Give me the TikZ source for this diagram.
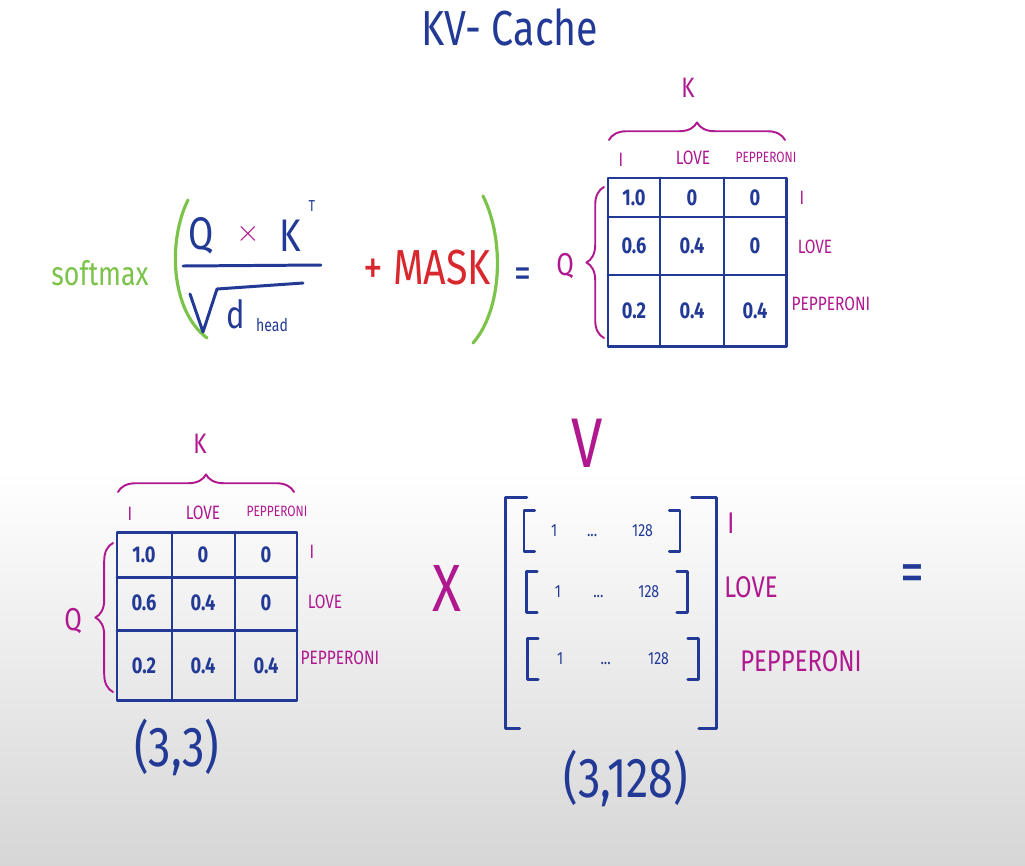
\documentclass[tikz,border=0pt]{standalone}
\usepackage{fontspec}
\setmainfont{Fira Sans}[FakeStretch=0.8]
\usetikzlibrary{positioning,decorations.pathreplacing}

\definecolor{ink}{HTML}{223A96}
\definecolor{pen}{HTML}{B01890}
\definecolor{leaf}{HTML}{7CC34A}
\definecolor{alert}{HTML}{D8272D}
\newcommand{\fsz}[1]{\fontsize{#1}{#1}\selectfont}

\begin{document}
\begin{tikzpicture}[x=0.02cm,y=-0.02cm,line cap=round,line join=round,
   every node/.style={inner sep=1pt},
   headline/.style={text=ink,font=\fsz{28}},
   num/.style={text=ink,font=\fsz{13}\bfseries},
   word/.style={text=pen,font=\fsz{11}},
   small word/.style={text=pen,font=\fsz{8.5}},
   big word/.style={text=pen,font=\fsz{17}},
   vrow/.style={text=ink,font=\fsz{10},minimum height=0.8cm},
   gridline/.style={draw=ink,line width=1.7pt},
   barline/.style={draw=ink,line width=1.7pt},
   curly/.style={draw=pen,line width=1.1pt,decorate,decoration={brace,amplitude=10pt}},
   paren/.style={draw=leaf,line width=1.8pt}]
  \useasboundingbox (0,0) rectangle (1025,866);
  \fill[white] (0,0) rectangle (1025,866);
  \shade[top color=white,bottom color=black!16] (0,470) rectangle (1025,866);

  \node[headline] (title) at (510,27) {KV- Cache};

  % softmax( Q x K^T / sqrt(d_head) + MASK ) =
  \node[text=leaf,font=\fsz{19}] (softmax) at (100,273) {softmax};
  \draw[paren] (188,200) .. controls (168,240) and (170,310) .. (207,338);
  \draw[paren] (483,196) .. controls (505,240) and (502,310) .. (473,343);
  \node[text=ink,font=\fsz{26}] (q) at (201,236) {Q};
  \node[text=pen,font=\fsz{16}] (times) at (248,234) {$\times$};
  \node[text=ink,font=\fsz{26}] (k) at (290,236) {K};
  \node[text=ink,font=\fsz{9}] (kt) at (312,206) {T};
  \draw[barline] (183,266) -- (321,265);
  \draw[barline] (190,294) -- (203,332) -- (217,289) -- (303,283);
  \node[text=ink,font=\fsz{22}] (d) at (236,314) {d};
  \node[text=ink,font=\fsz{10}] (dhead) at (272,325) {head};
  \node[text=alert,font=\fsz{28}] (mask) at (427,268) {+ MASK};
  \node[text=ink,font=\fsz{24}] (eq1) at (523,278) {=};

  % masked scores
  \node[text=pen,font=\fsz{16}] (ktop) at (688,88) {K};
  \draw[curly] (609,140) -- (785,140);
  \node[word] (th1) at (621,160) {I};
  \node[word] (th2) at (693,158) {LOVE};
  \node[small word] (th3) at (766,157) {PEPPERONI};
  \node[text=pen,font=\fsz{18}] (qtop) at (565,266) {Q};
  \draw[curly] (604,338) -- (604,187);
  \draw[gridline] (608,178) rectangle (786,346);
  \draw[gridline] (608,217) -- (786,217) (608,275) -- (786,275)
                  (660,178) -- (660,346) (724,178) -- (724,346);
  \node[num] (ta11) at (634,198) {1.0};
  \node[num] (ta12) at (692,198) {0};
  \node[num] (ta13) at (755,198) {0};
  \node[num] (ta21) at (634,246) {0.6};
  \node[num] (ta22) at (692,246) {0.4};
  \node[num] (ta23) at (755,246) {0};
  \node[num] (ta31) at (634,311) {0.2};
  \node[num] (ta32) at (692,311) {0.4};
  \node[num] (ta33) at (755,311) {0.4};
  \node[word] (tr1) at (802,198) {I};
  \node[word] (tr2) at (815,247) {LOVE};
  \node[word] (tr3) at (831,304) {PEPPERONI};

  % same scores, times V
  \node[text=pen,font=\fsz{16}] (kbot) at (200,444) {K};
  \draw[curly] (118,492) -- (294,492);
  \node[word] (bh1) at (130,514) {I};
  \node[word] (bh2) at (203,513) {LOVE};
  \node[small word] (bh3) at (277,511) {PEPPERONI};
  \node[text=pen,font=\fsz{18}] (qbot) at (73,621) {Q};
  \draw[curly] (113,692) -- (113,543);
  \draw[gridline] (117,532) rectangle (297,700);
  \draw[gridline] (117,577) -- (297,577) (117,630) -- (297,630)
                  (172,532) -- (172,700) (235,532) -- (235,700);
  \node[num] (ba11) at (144,555) {1.0};
  \node[num] (ba12) at (203,555) {0};
  \node[num] (ba13) at (266,555) {0};
  \node[num] (ba21) at (144,603) {0.6};
  \node[num] (ba22) at (203,603) {0.4};
  \node[num] (ba23) at (266,603) {0};
  \node[num] (ba31) at (144,666) {0.2};
  \node[num] (ba32) at (203,666) {0.4};
  \node[num] (ba33) at (266,666) {0.4};
  \node[word] (br1) at (312,552) {I};
  \node[word] (br2) at (325,602) {LOVE};
  \node[word] (br3) at (340,658) {PEPPERONI};
  \node[text=ink,font=\fsz{32}] (shapeqk) at (177,747) {(3,3)};

  \node[text=pen,font=\fsz{38}] (times2) at (447,588) {X};
  \node[text=pen,font=\fsz{40}] (vlabel) at (587,443) {V};
  \node[minimum width=4.2cm,minimum height=4.6cm] (vmat) at (611,613) {};
  \draw[barline] ([xshift=12pt]vmat.north west) -- (vmat.north west)
     -- (vmat.south west) -- ([xshift=8pt]vmat.south west);
  \draw[barline] ([xshift=-14pt]vmat.north east) -- (vmat.north east)
     -- (vmat.south east) -- ([xshift=-10pt]vmat.south east);
  \node[vrow,minimum width=3.1cm] (v1) at (602,531) {1\hspace{0.6cm}...\hspace{0.7cm}128};
  \node[vrow,minimum width=3.2cm] (v2) at (607,592) {1\hspace{0.65cm}...\hspace{0.7cm}128};
  \node[vrow,minimum width=3.4cm] (v3) at (613,659) {1\hspace{0.75cm}...\hspace{0.75cm}128};
  \foreach \r in {v1,v2,v3}
    \draw[barline,line width=1.5pt]
      ([xshift=6pt]\r.north west) -- (\r.north west) -- (\r.south west) -- ([xshift=6pt]\r.south west)
      ([xshift=-6pt]\r.north east) -- (\r.north east) -- (\r.south east) -- ([xshift=-6pt]\r.south east);
  \node[big word] (vr1) at (731,523) {I};
  \node[big word] (vr2) at (751,587) {LOVE};
  \node[big word] (vr3) at (801,661) {PEPPERONI};
  \node[text=ink,font=\fsz{34}] (eq2) at (912,579) {=};
  \node[text=ink,font=\fsz{32}] (shapev) at (626,778) {(3,128)};
\end{tikzpicture}
\end{document}
